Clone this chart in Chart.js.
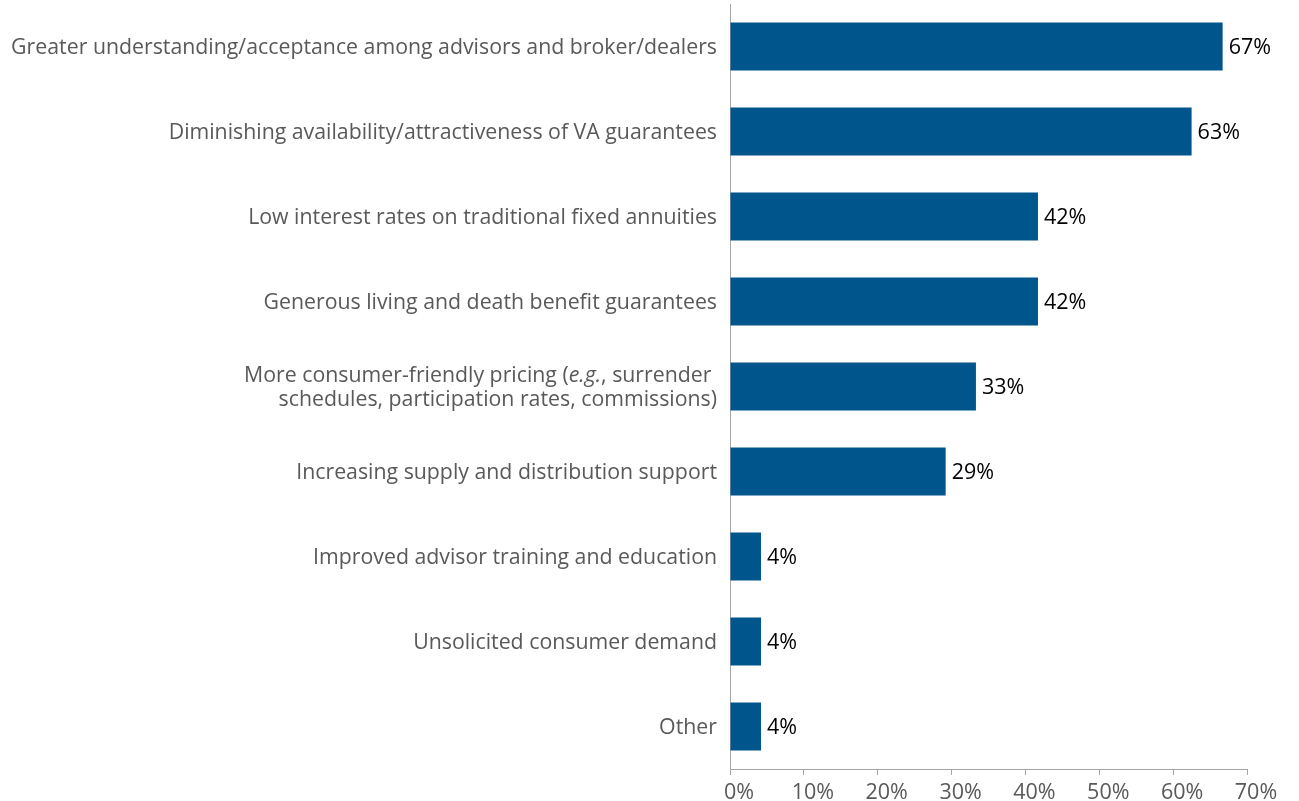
<!DOCTYPE html>
<html>
<head>
<meta charset="utf-8">
<script src="https://cdn.jsdelivr.net/npm/chart.js@4"></script>
<style>
  html, body { margin: 0; padding: 0; background: #fff; }
  #wrap { width: 1299px; height: 801px; position: relative; }
</style>
</head>
<body>
<div id="wrap"><canvas id="chart"></canvas></div>
<script>
// each label is a list of lines; a line is a list of [text, italic] pieces
const labels = [
  [[['Greater understanding/acceptance among advisors and broker/dealers', false]]],
  [[['Diminishing availability/attractiveness of VA guarantees', false]]],
  [[['Low interest rates on traditional fixed annuities', false]]],
  [[['Generous living and death benefit guarantees', false]]],
  [
    [['More consumer-friendly pricing (', false], ['e.g.', true], [', surrender ', false]],
    [['schedules, participation rates, commissions)', false]]
  ],
  [[['Increasing supply and distribution support', false]]],
  [[['Improved advisor training and education', false]]],
  [[['Unsolicited consumer demand', false]]],
  [[['Other', false]]]
]
const values = [66.7, 62.5, 41.7, 41.7, 33.3, 29.2, 4.2, 4.2, 4.2]
const xTicks = [0, 10, 20, 30, 40, 50, 60, 70]

const FONT = '"Open Sans", "Noto Sans", sans-serif'
const BLUE = '#00558c'
const AXIS = '#a6a6a6'

// draws category labels (with italic pieces) to the left of the axis
const yLabelPlugin = {
  id: 'yLabels',
  afterDraw(chart) {
    const ctx = chart.ctx
    const y = chart.scales.y
    const right = chart.chartArea.left - 13
    const size = '21.3px '
    ctx.save()
    ctx.fillStyle = '#595959'
    ctx.textBaseline = 'middle'
    ctx.textAlign = 'left'
    labels.forEach((lines, i) => {
      const cy = y.getPixelForValue(i) + 1
      const lh = 24
      const top = cy - (lines.length - 1) * lh / 2
      lines.forEach((pieces, j) => {
        let w = 0
        pieces.forEach(([t, it]) => {
          ctx.font = (it ? 'italic ' : '') + size + FONT
          w += ctx.measureText(t).width
        })
        let x = right - w
        pieces.forEach(([t, it]) => {
          ctx.font = (it ? 'italic ' : '') + size + FONT
          ctx.fillText(t, x, top + j * lh)
          x += ctx.measureText(t).width
        })
      })
    })
    ctx.restore()
  }
}

// value labels at the end of each bar
const valueLabelPlugin = {
  id: 'valueLabels',
  afterDatasetsDraw(chart) {
    const ctx = chart.ctx
    const meta = chart.getDatasetMeta(0)
    ctx.save()
    ctx.font = '21.5px ' + FONT
    ctx.fillStyle = '#000'
    ctx.textAlign = 'left'
    ctx.textBaseline = 'middle'
    meta.data.forEach((bar, i) => {
      ctx.fillText(Math.round(values[i]) + '%', bar.x + 6, bar.y + 1)
    })
    ctx.restore()
  }
}

new Chart(document.getElementById('chart'), {
  type: 'bar',
  data: {
    labels: labels.map((l, i) => 'c' + i),
    datasets: [{
      data: values,
      backgroundColor: BLUE,
      borderWidth: 0,
      categoryPercentage: 1,
      barPercentage: 0.565
    }]
  },
  options: {
    indexAxis: 'y',
    responsive: true,
    maintainAspectRatio: false,
    animation: false,
    layout: { padding: { top: 4, right: 52, bottom: 0, left: 0 } },
    plugins: { legend: { display: false }, tooltip: { enabled: false } },
    scales: {
      y: {
        ticks: { display: false },
        grid: { display: false, drawTicks: false },
        border: { color: AXIS, width: 1 },
        afterFit: (s) => { s.width = 730 }
      },
      x: {
        min: 0,
        max: 70,
        afterBuildTicks: (s) => { s.ticks = xTicks.map(v => ({ value: v })) },
        ticks: {
          color: '#595959',
          font: { family: FONT, size: 21.5 },
          padding: 5,
          labelOffset: 9,
          callback: (v) => v + '%'
        },
        grid: { display: true, drawOnChartArea: false, drawTicks: true, tickLength: 6, color: AXIS },
        border: { color: AXIS, width: 1 },
        afterFit: (s) => { s.height = 32 }
      }
    }
  },
  plugins: [yLabelPlugin, valueLabelPlugin]
})
</script>
</body>
</html>
